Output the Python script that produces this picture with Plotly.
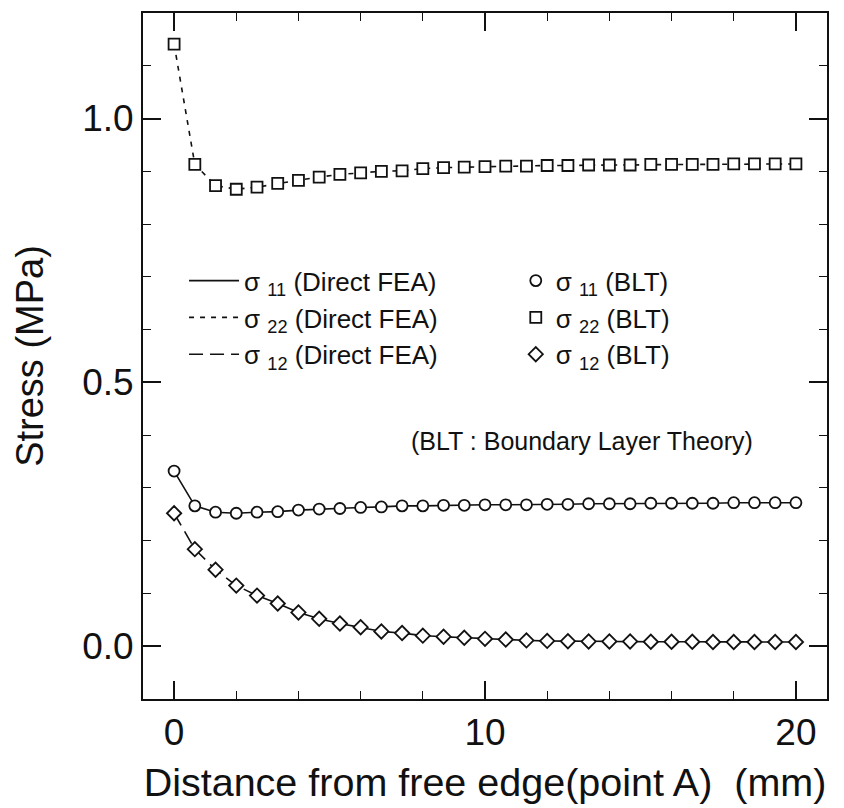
import plotly.graph_objects as go

# Distance from free edge (mm)
x_mm = [0, 0.667, 1.333, 2, 2.667, 3.333, 4, 4.667, 5.333, 6, 6.667, 7.333, 8, 8.667, 9.333, 10,
        10.667, 11.333, 12, 12.667, 13.333, 14, 14.667, 15.333, 16, 16.667, 17.333, 18, 18.667, 19.333, 20]

# BLT (boundary layer theory) values, MPa
blt_s11 = [0.332, 0.266, 0.254, 0.252, 0.254, 0.255, 0.258, 0.260, 0.261, 0.263, 0.264, 0.266, 0.266,
           0.267, 0.267, 0.268, 0.268, 0.268, 0.269, 0.269, 0.270, 0.270, 0.270, 0.271, 0.271, 0.271,
           0.271, 0.272, 0.272, 0.272, 0.272]
blt_s22 = [1.141, 0.913, 0.873, 0.866, 0.870, 0.877, 0.883, 0.889, 0.894, 0.897, 0.900, 0.901, 0.905,
           0.907, 0.908, 0.909, 0.910, 0.910, 0.911, 0.911, 0.912, 0.912, 0.912, 0.913, 0.913, 0.913,
           0.913, 0.914, 0.914, 0.914, 0.914]
blt_s12 = [0.252, 0.184, 0.145, 0.115, 0.096, 0.081, 0.064, 0.052, 0.043, 0.036, 0.028, 0.025, 0.020,
           0.018, 0.016, 0.014, 0.0127, 0.011, 0.010, 0.0095, 0.009, 0.009, 0.009, 0.0085, 0.0085,
           0.0085, 0.008, 0.008, 0.008, 0.008, 0.008]

# Direct FEA values (coincide with BLT within drawing accuracy)
fea_s11 = list(blt_s11)
fea_s22 = list(blt_s22)
fea_s12 = list(blt_s12)

x_ticks = [0, 10, 20]
y_ticks = [0.0, 0.5, 1.0]

FONT = "Liberation Sans, Arial, Helvetica, sans-serif"
BLACK = "#111111"

fig = go.Figure()

fig.add_trace(go.Scatter(x=x_mm, y=fea_s11, mode="lines", name="σ <sub>11</sub> (Direct FEA)",
                         line=dict(color=BLACK, width=1.6, dash="solid"), legend="legend"))
fig.add_trace(go.Scatter(x=x_mm, y=fea_s22, mode="lines", name="σ <sub>22</sub> (Direct FEA)",
                         line=dict(color=BLACK, width=1.6, dash="5px,6px"), legend="legend"))
fig.add_trace(go.Scatter(x=x_mm, y=fea_s12, mode="lines", name="σ <sub>12</sub> (Direct FEA)",
                         line=dict(color=BLACK, width=1.6, dash="14px,7px"), legend="legend"))

mk = dict(color="white", line=dict(color=BLACK, width=1.8))
fig.add_trace(go.Scatter(x=x_mm, y=blt_s11, mode="markers", name="σ <sub>11</sub> (BLT)",
                         marker=dict(symbol="circle", size=11, **mk), legend="legend2"))
fig.add_trace(go.Scatter(x=x_mm, y=blt_s22, mode="markers", name="σ <sub>22</sub> (BLT)",
                         marker=dict(symbol="square", size=11, **mk), legend="legend2"))
fig.add_trace(go.Scatter(x=x_mm, y=blt_s12, mode="markers", name="σ <sub>12</sub> (BLT)",
                         marker=dict(symbol="diamond", size=11, **mk), legend="legend2"))

axis_common = dict(showline=True, linecolor=BLACK, linewidth=2, mirror="allticks",
                   ticks="inside", ticklen=18, tickwidth=1.6, tickcolor=BLACK,
                   showgrid=False, zeroline=False,
                   tickfont=dict(family=FONT, size=37, color=BLACK))

fig.update_xaxes(range=[-1, 21], tickvals=x_ticks, ticktext=[str(v) for v in x_ticks],
                 minor=dict(dtick=2, tick0=0, ticks="inside", ticklen=8, tickwidth=1.4, tickcolor=BLACK),
                 title=dict(text="Distance from free edge(point A)  (mm)",
                            font=dict(family=FONT, size=39.5, color=BLACK), standoff=16),
                 **axis_common)
fig.update_yaxes(range=[-0.1, 1.2], tickvals=y_ticks, ticktext=["%.1f" % v for v in y_ticks],
                 minor=dict(dtick=0.1, tick0=0, ticks="inside", ticklen=8, tickwidth=1.4, tickcolor=BLACK),
                 title=dict(text="Stress (MPa)", font=dict(family=FONT, size=38, color=BLACK), standoff=27),
                 **axis_common)

legend_common = dict(font=dict(family=FONT, size=26, color=BLACK), bgcolor="rgba(0,0,0,0)",
                     borderwidth=0, xanchor="left", yanchor="top", orientation="v")
# The page body adds an 8px margin, so the figure is 8px smaller and the margins compensate.
fig.update_layout(
    width=836, height=800,
    margin=dict(l=135, r=17, t=3, b=109),
    paper_bgcolor="white", plot_bgcolor="white",
    showlegend=True,
    legend=dict(x=0.06, y=0.644, itemwidth=50, **legend_common),
    legend2=dict(x=0.545, y=0.644, **legend_common),
    annotations=[dict(text="(BLT : Boundary Layer Theory)", xref="paper", yref="paper",
                      x=0.642, y=0.376, showarrow=False, xanchor="center", yanchor="middle",
                      font=dict(family=FONT, size=25, color=BLACK))],
)

fig.write_html("out.html")
